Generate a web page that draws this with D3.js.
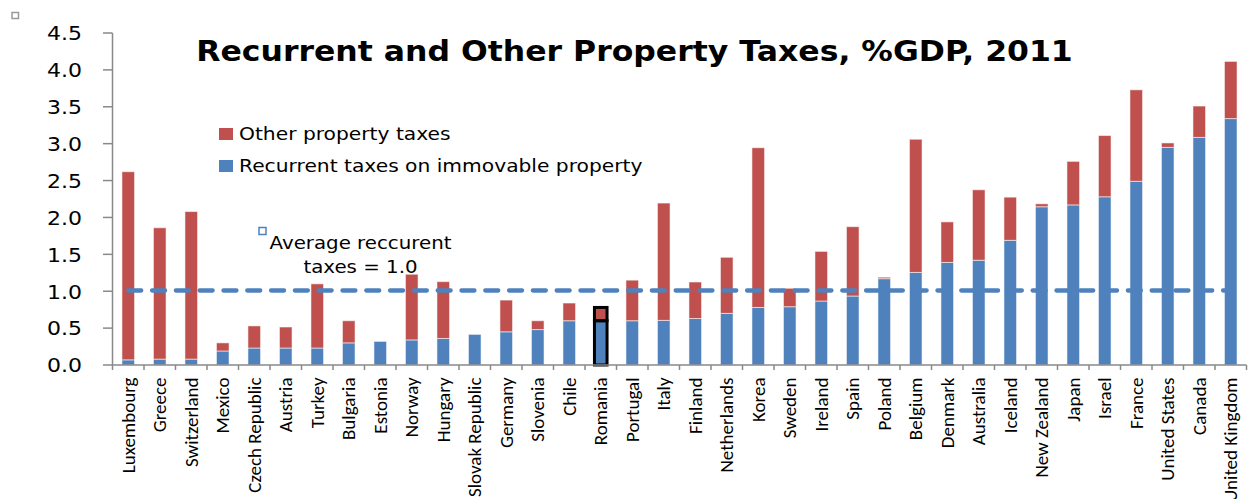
<!DOCTYPE html>
<html>
<head>
<meta charset="utf-8">
<script src="https://cdn.jsdelivr.net/npm/d3@7"></script>
<style>
  html, body { margin: 0; padding: 0; background: #fff; }
  svg { display: block; }
</style>
</head>
<body>
<svg id="chart" width="1249" height="499"></svg>
<script>
const countries = ["Luxembourg","Greece","Switzerland","Mexico","Czech Republic","Austria","Turkey","Bulgaria","Estonia","Norway","Hungary","Slovak Republic","Germany","Slovenia","Chile","Romania","Portugal","Italy","Finland","Netherlands","Korea","Sweden","Ireland","Spain","Poland","Belgium","Denmark","Australia","Iceland","New Zealand","Japan","Israel","France","United States","Canada","United Kingdom"];
const recurrent = [0.07,0.08,0.08,0.19,0.23,0.23,0.23,0.30,0.32,0.34,0.36,0.415,0.45,0.48,0.60,0.60,0.60,0.605,0.63,0.70,0.78,0.79,0.867,0.935,1.17,1.255,1.39,1.42,1.69,2.145,2.17,2.28,2.49,2.95,3.085,3.34];
const totals    = [2.62,1.86,2.08,0.30,0.53,0.515,1.10,0.60,0.32,1.23,1.13,0.415,0.88,0.60,0.84,0.78,1.15,2.195,1.125,1.46,2.945,1.04,1.54,1.875,1.19,3.06,1.94,2.375,2.275,2.185,2.76,3.11,3.73,3.01,3.51,4.115];
const other = totals.map((t, i) => Math.max(0, +(t - recurrent[i]).toFixed(3)));
const yTicks = [0,0.5,1.0,1.5,2.0,2.5,3.0,3.5,4.0,4.5];
const averageRecurrent = 1.01;
const highlighted = "Romania";
const titleText = "Recurrent and Other Property Taxes, %GDP, 2011";
const legendLabels = ["Other property taxes", "Recurrent taxes on immovable property"];
const annotationLines = ["Average reccurent", "taxes = 1.0"];

const RED = "#C0504D", BLUE = "#4F81BD", AXIS = "#898989";
const SX = 1.1;
const svg = d3.select("#chart");

const x = d3.scaleBand().domain(countries).range([112.5, 1246.5]).paddingInner(0.6).paddingOuter(0.3);
const y = d3.scaleLinear().domain([0, 4.5]).range([365, 33]);
const step = x.step();

// top-left marker
svg.append("rect").attr("x", 12).attr("y", 12.5).attr("width", 6.5).attr("height", 6)
  .attr("fill", "#fff").attr("stroke", "#9a9a9a").attr("stroke-width", 1.5);

// bars
const stackData = countries.map((c, i) => ({c, r: recurrent[i], o: other[i]}));
const g = svg.append("g");
g.selectAll("rect.rec").data(stackData).join("rect").attr("class", "rec")
  .attr("x", d => x(d.c)).attr("width", x.bandwidth())
  .attr("y", d => y(d.r)).attr("height", d => y(0) - y(d.r))
  .attr("fill", BLUE).attr("stroke", "rgba(255,255,255,0.55)").attr("stroke-width", 1);
g.selectAll("rect.oth").data(stackData.filter(d => d.o > 0)).join("rect").attr("class", "oth")
  .attr("x", d => x(d.c)).attr("width", x.bandwidth())
  .attr("y", d => y(d.r + d.o)).attr("height", d => y(d.r) - y(d.r + d.o))
  .attr("fill", RED).attr("stroke", "rgba(255,255,255,0.55)").attr("stroke-width", 1);

// highlighted outline
const hd = stackData.find(d => d.c === highlighted);
[[0, hd.r], [hd.r, hd.r + hd.o]].forEach(([a, b]) => {
  svg.append("rect").attr("x", x(hd.c)).attr("width", x.bandwidth())
    .attr("y", y(b)).attr("height", y(a) - y(b))
    .attr("fill", "none").attr("stroke", "#000").attr("stroke-width", 3);
});

// y axis
const yAxis = svg.append("g");
yAxis.append("line").attr("x1", 112.5).attr("x2", 112.5).attr("y1", y(4.5)).attr("y2", y(0))
  .attr("stroke", AXIS).attr("stroke-width", 1.5);
yTicks.forEach(t => {
  yAxis.append("line").attr("x1", 103).attr("x2", 112.5).attr("y1", y(t)).attr("y2", y(t))
    .attr("stroke", AXIS).attr("stroke-width", 1.5);
  yAxis.append("text").attr("transform", `translate(82,${y(t) + 7.3}) scale(${SX},1)`)
    .attr("text-anchor", "end").attr("font-family", "DejaVu Sans, Verdana, sans-serif")
    .attr("font-size", 20).attr("fill", "#000").text(d3.format(".1f")(t));
});

// x axis
const xAxis = svg.append("g");
xAxis.append("line").attr("x1", 112.5).attr("x2", 1246.5).attr("y1", y(0)).attr("y2", y(0))
  .attr("stroke", AXIS).attr("stroke-width", 1.5);
const bounds = countries.map(c => x(c) + x.bandwidth() / 2 - step / 2).concat([x(countries[countries.length - 1]) + x.bandwidth() / 2 + step / 2]);
bounds.forEach(b => {
  xAxis.append("line").attr("x1", b).attr("x2", b).attr("y1", y(0)).attr("y2", y(0) + 5)
    .attr("stroke", AXIS).attr("stroke-width", 1.5);
});
countries.forEach(c => {
  const cx = x(c) + x.bandwidth() / 2;
  xAxis.append("text").attr("transform", `translate(${cx},377.5) rotate(-90)`)
    .attr("dy", "0.35em").attr("text-anchor", "end")
    .attr("font-family", "Carlito, Calibri, Lato, sans-serif").attr("font-size", 19)
    .attr("fill", "#000").text(c);
});

// average line
const firstC = x(countries[0]) + x.bandwidth() / 2;
const lastC = x(countries[countries.length - 1]) + x.bandwidth() / 2;
svg.append("line").attr("x1", firstC).attr("x2", lastC).attr("y1", y(averageRecurrent)).attr("y2", y(averageRecurrent))
  .attr("stroke", BLUE).attr("stroke-width", 4.3).attr("stroke-linecap", "round")
  .attr("stroke-dasharray", "13,10.8");

// title
svg.append("text").attr("transform", `translate(634.5,61) scale(1.125,1)`)
  .attr("text-anchor", "middle").attr("font-family", "DejaVu Sans, Verdana, sans-serif")
  .attr("font-weight", "bold").attr("font-size", 28).attr("fill", "#000").text(titleText);

// legend
const legColors = [RED, BLUE];
const legY = [140, 172];
legendLabels.forEach((l, i) => {
  svg.append("rect").attr("x", 219).attr("y", legY[i] - 12).attr("width", 14).attr("height", 12)
    .attr("fill", legColors[i]);
  svg.append("text").attr("transform", `translate(239,${legY[i]}) scale(1.125,1)`)
    .attr("font-family", "DejaVu Sans, Verdana, sans-serif").attr("font-size", 18)
    .attr("fill", "#000").text(l);
});

// annotation
svg.append("rect").attr("x", 259).attr("y", 227.5).attr("width", 7).attr("height", 7)
  .attr("fill", "#fff").attr("stroke", BLUE).attr("stroke-width", 1.5);
const annY = [249, 272.7];
annotationLines.forEach((l, i) => {
  svg.append("text").attr("transform", `translate(360.5,${annY[i]}) scale(${SX},1)`)
    .attr("text-anchor", "middle").attr("font-family", "DejaVu Sans, Verdana, sans-serif")
    .attr("font-size", 18).attr("fill", "#000").text(l);
});
</script>
</body>
</html>
